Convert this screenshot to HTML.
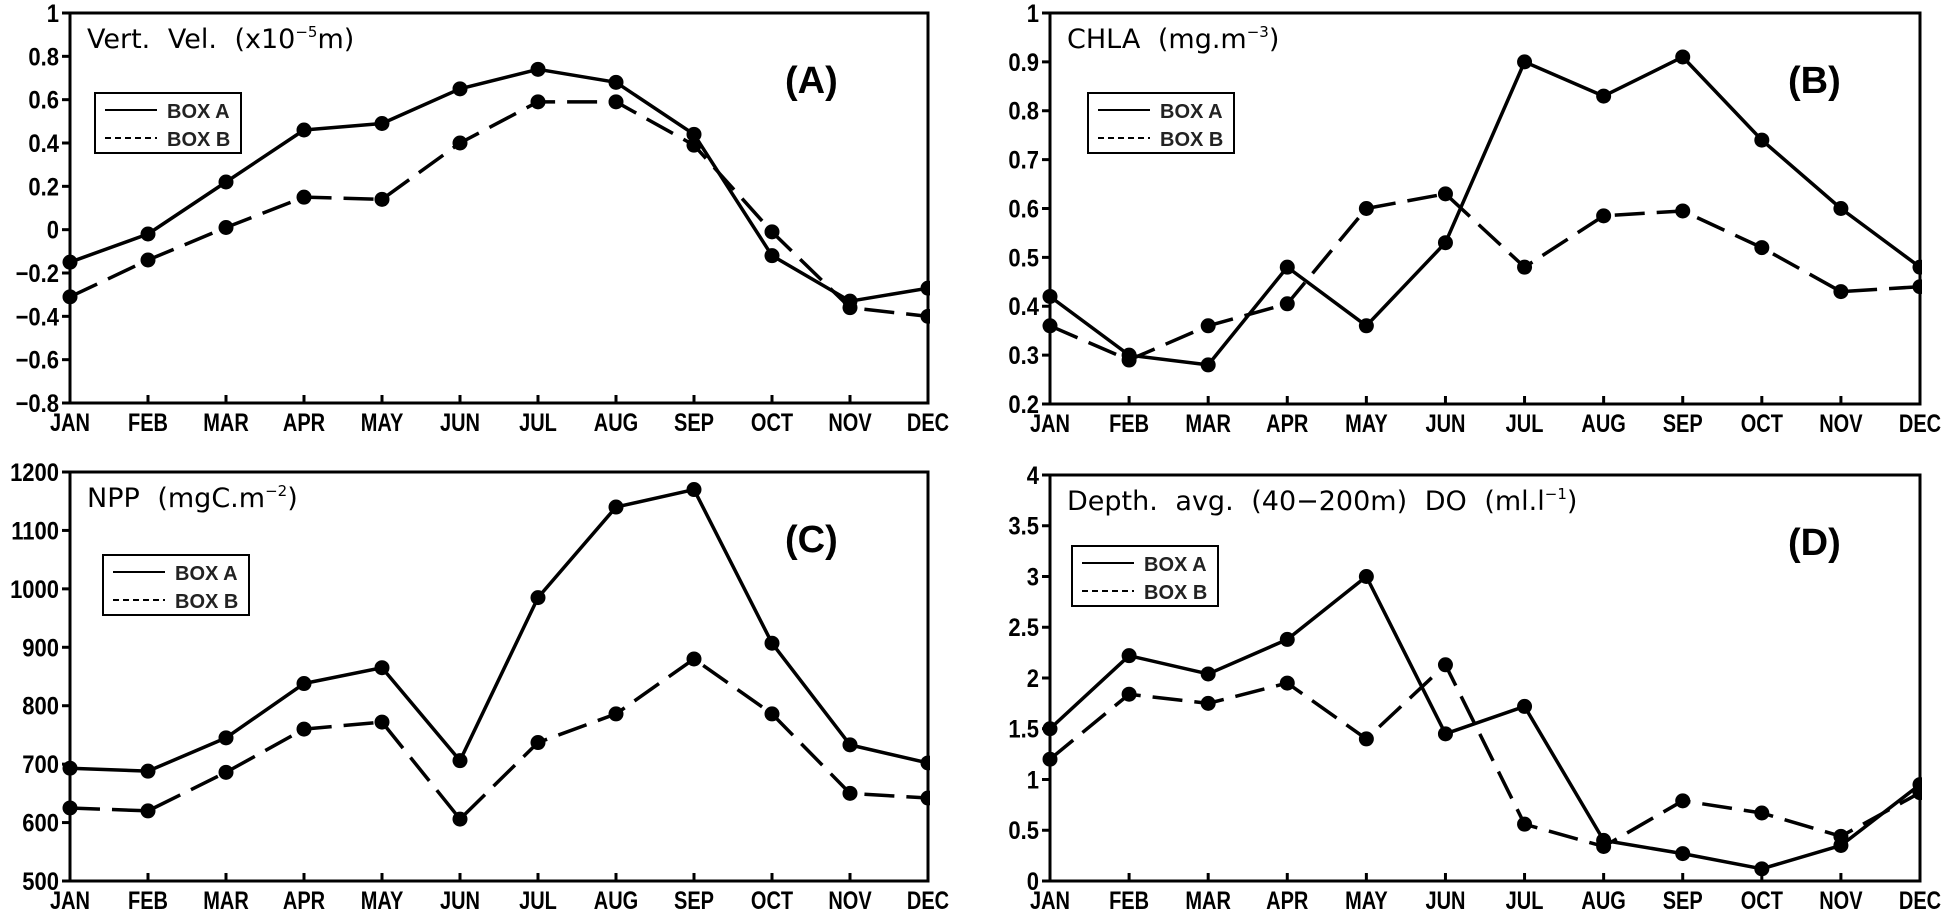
<!DOCTYPE html>
<html><head><meta charset="utf-8"><style>
html,body{margin:0;padding:0;background:#fff;}
svg{display:block;font-family:"Liberation Sans","DejaVu Sans",sans-serif;}
</style></head><body>
<svg id="fig" width="1947" height="917" viewBox="0 0 1947 917" xmlns="http://www.w3.org/2000/svg"></svg>
<script>
const months = ["JAN","FEB","MAR","APR","MAY","JUN","JUL","AUG","SEP","OCT","NOV","DEC"];
const aBoxA = [-0.15,-0.02,0.22,0.46,0.49,0.65,0.74,0.68,0.44,-0.12,-0.33,-0.27];
const aBoxB = [-0.31,-0.14,0.01,0.15,0.14,0.40,0.59,0.59,0.39,-0.01,-0.36,-0.40];
const aTicks = [-0.8,-0.6,-0.4,-0.2,0,0.2,0.4,0.6,0.8,1];
const bBoxA = [0.42,0.30,0.28,0.48,0.36,0.53,0.90,0.83,0.91,0.74,0.60,0.48];
const bBoxB = [0.36,0.29,0.36,0.405,0.60,0.63,0.48,0.585,0.595,0.52,0.43,0.44];
const bTicks = [0.2,0.3,0.4,0.5,0.6,0.7,0.8,0.9,1];
const cBoxA = [693,688,745,838,865,706,985,1140,1170,907,733,702];
const cBoxB = [625,620,686,760,772,606,737,786,880,786,650,642];
const cTicks = [500,600,700,800,900,1000,1100,1200];
const dBoxA = [1.5,2.22,2.04,2.38,3.0,1.45,1.72,0.4,0.27,0.12,0.35,0.95];
const dBoxB = [1.2,1.84,1.75,1.95,1.4,2.13,0.56,0.34,0.79,0.67,0.44,0.87];
const dTicks = [0,0.5,1,1.5,2,2.5,3,3.5,4];

const NS="http://www.w3.org/2000/svg";
const svg=document.getElementById('fig');
function mk(tag,attrs,parent){const e=document.createElementNS(NS,tag);for(const k in attrs)e.setAttribute(k,attrs[k]);(parent||svg).appendChild(e);return e;}

function panel(id,x0,x1,y0,y1,ticks,sA,sB,title,sup,tail,letter,legX,legY,lbX){
  const g=mk('g',{});
  
  
  const ymin=ticks[0],ymax=ticks[ticks.length-1];
  const X=i=>x0+(x1-x0)*i/11;
  const Y=v=>y1-(v-ymin)/(ymax-ymin)*(y1-y0);
  const fr=mk('rect',{x:x0,y:y0,width:x1-x0,height:y1-y0,fill:'none',stroke:'#000','stroke-width':3},g);
  
  
  ticks.forEach(t=>{
    const y=Y(t);
    mk('line',{x1:x0-8,x2:x0,y1:y,y2:y,stroke:'#000','stroke-width':3},g);
    const lx=x0-11;
    const tx=mk('text',{x:lx,y:y+9,'text-anchor':'end','font-size':25,'font-weight':'bold',fill:'#000',transform:`translate(${lx},0) scale(0.88,1) translate(${-lx},0)`},g);
    tx.textContent=(t<0?'\u2212'+Math.abs(t):String(t));
    
    
  });
  months.forEach((m,i)=>{
    const x=X(i);
    mk('line',{x1:x,x2:x,y1:y1,y2:y1-8,stroke:'#000','stroke-width':3},g);
    const tx=mk('text',{x:x,y:y1+28,'text-anchor':'middle','font-size':25,'font-weight':'bold',fill:'#000',transform:`translate(${x},0) scale(0.8,1) translate(${-x},0)`},g);
    tx.textContent=m;
    
    
  });
  function series(arr,dash,name){
    const pts=arr.map((v,i)=>X(i)+','+Y(v)).join(' ');
    const pl=mk('polyline',{points:pts,fill:'none',stroke:'#000','stroke-width':3.5,'stroke-linejoin':'round'},g);
    if(dash)pl.setAttribute('stroke-dasharray','30,12');
    
    
    arr.forEach((v,i)=>{
      const c=mk('circle',{cx:X(i),cy:Y(v),r:7.5,fill:'#000'},g);
      
      
    });
  }
  series(sB,true,'box-b-'+id);
  series(sA,false,'box-a-'+id);
  mk('rect',{x:x1+2,y:y0-2,width:40,height:y1-y0+4,fill:'#fff'},g);
  mk('line',{x1:x1,x2:x1,y1:y0,y2:y1,stroke:'#000','stroke-width':3},g);
  const tt=mk('text',{x:x0+17,y:y0+35,'font-size':27,'word-spacing':9,fill:'#000','font-family':'DejaVu Sans, sans-serif'},g);
  tt.innerHTML=title+'<tspan font-size="15" dy="-11">'+sup+'</tspan><tspan dy="11">'+tail+'</tspan>';
  
  
  const lt=mk('text',{x:lbX,y:y0+80,'font-size':38,'font-weight':'bold',fill:'#000'},g);
  lt.textContent='('+letter+')';
  
  
  const lg=mk('g',{},g);
  
  
  mk('rect',{x:legX,y:legY,width:146,height:60,fill:'#fff',stroke:'#000','stroke-width':2},lg);
  mk('line',{x1:legX+10,x2:legX+62,y1:legY+17,y2:legY+17,stroke:'#000','stroke-width':2},lg);
  mk('line',{x1:legX+10,x2:legX+62,y1:legY+45,y2:legY+45,stroke:'#000','stroke-width':2,'stroke-dasharray':'6,4'},lg);
  const la=mk('text',{x:legX+72,y:legY+25,'font-size':20,'font-weight':'bold',fill:'#222'},lg);
  la.textContent='BOX A';
  
  
  const lb=mk('text',{x:legX+72,y:legY+53,'font-size':20,'font-weight':'bold',fill:'#222'},lg);
  lb.textContent='BOX B';
  
  
}
panel('a',70,928,13,403,aTicks,aBoxA,aBoxB,'Vert. Vel. (x10','\u22125','m)','A',95,93,785);
panel('b',1050,1920,13,404,bTicks,bBoxA,bBoxB,'CHLA (mg.m','\u22123',')','B',1088,93,1788);
panel('c',70,928,472,881,cTicks,cBoxA,cBoxB,'NPP (mgC.m','\u22122',')','C',103,555,785);
panel('d',1050,1920,475,881,dTicks,dBoxA,dBoxB,'Depth. avg. (40\u2212200m) DO (ml.l','\u22121',')','D',1072,546,1788);
</script>
</body></html>
